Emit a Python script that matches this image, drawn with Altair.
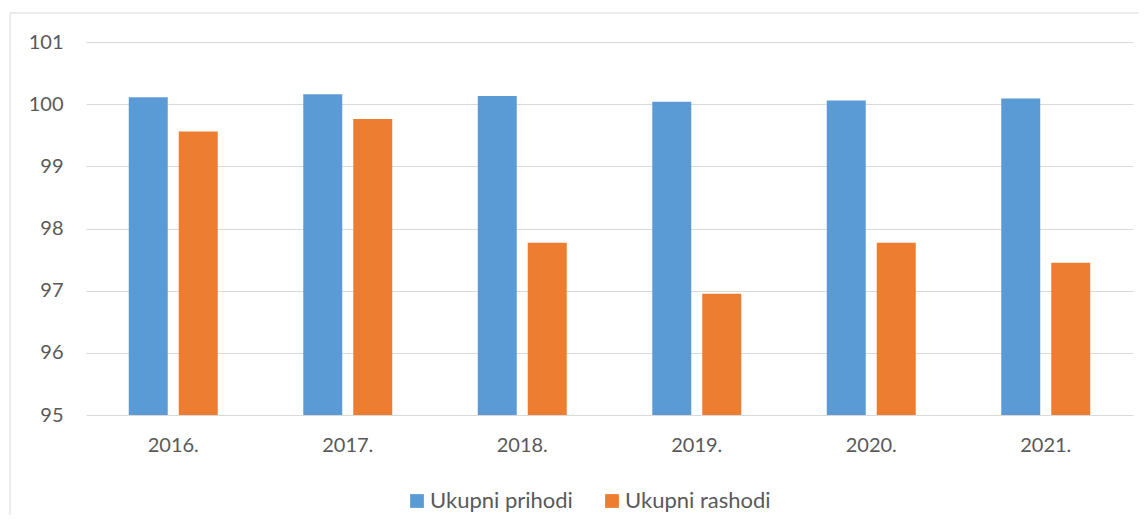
import altair as alt
import pandas as pd

years = ["2016.", "2017.", "2018.", "2019.", "2020.", "2021."]
series = ["Ukupni prihodi", "Ukupni rashodi"]
prihodi = [100.11, 100.16, 100.13, 100.04, 100.06, 100.09]
rashodi = [99.56, 99.76, 97.77, 96.95, 97.77, 97.45]
y_ticks = [95, 96, 97, 98, 99, 100, 101]
colors = ["#5B9BD5", "#ED7D31"]

rows = []
for i, y in enumerate(years):
    rows.append({"year": y, "series": series[0], "value": prihodi[i], "base": y_ticks[0]})
    rows.append({"year": y, "series": series[1], "value": rashodi[i], "base": y_ticks[0]})
df = pd.DataFrame(rows)

FONT = "Lato"
TXT = "#595959"
W, H = 1047, 373

bars = alt.Chart(df).mark_bar().encode(
    x=alt.X("year:N", sort=years,
            scale=alt.Scale(paddingInner=0.49, paddingOuter=0.245),
            axis=alt.Axis(title=None, labelAngle=0, ticks=False, domain=False,
                          labelFontSize=20, labelColor=TXT, labelFont=FONT,
                          labelPadding=20)),
    xOffset=alt.XOffset("series:N", sort=series,
                        scale=alt.Scale(paddingInner=0.22, paddingOuter=0)),
    y=alt.Y("value:Q",
            scale=alt.Scale(domain=[y_ticks[0], y_ticks[-1]], nice=False, zero=False),
            axis=alt.Axis(title=None, values=y_ticks, ticks=False, domain=False,
                          labelFontSize=20, labelColor=TXT, labelFont=FONT,
                          labelPadding=23, gridColor="#D9D9D9", gridWidth=1)),
    y2="base:Q",
    color=alt.Color("series:N", sort=series,
                    scale=alt.Scale(domain=series, range=colors),
                    legend=alt.Legend(title=None, orient="none", direction="horizontal",
                                      legendX=320, legendY=448,
                                      symbolType="square", symbolSize=190,
                                      symbolStrokeWidth=0, labelFontSize=22,
                                      labelFont=FONT, labelColor=TXT,
                                      labelOffset=2, columnPadding=28)),
)

frame = alt.Chart(pd.DataFrame({"v": [0]})).mark_rect(
    filled=False, stroke="#D9D9D9", strokeWidth=1
).encode(
    x=alt.value(-76), x2=alt.value(1070), y=alt.value(-29), y2=alt.value(520)
)

chart = alt.layer(frame, bars).properties(
    width=W, height=H,
    background="white",
    autosize=alt.AutoSizeParams(type="none"),
    padding={"left": 78, "top": 34, "right": 6, "bottom": 100},
).configure_view(stroke=None)

chart.save("out.html", embed_options={"renderer": "svg", "actions": False})
